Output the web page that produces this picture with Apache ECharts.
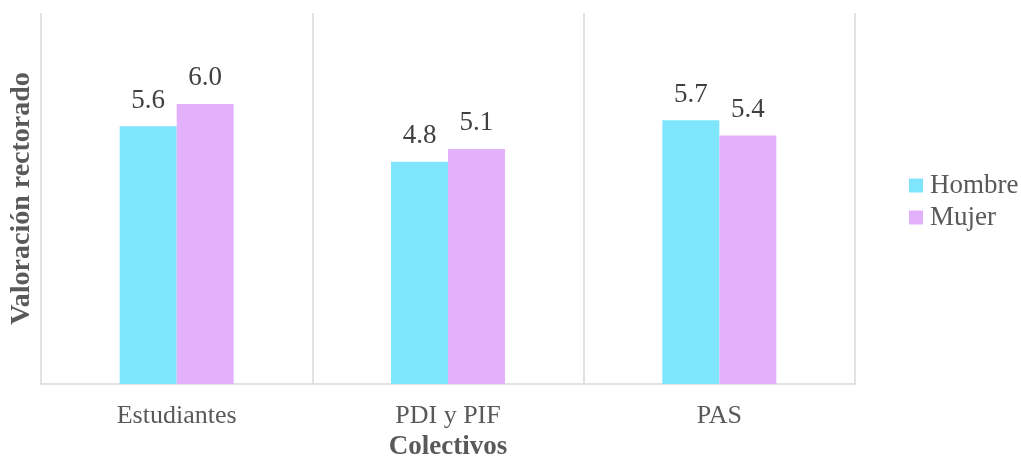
<!DOCTYPE html>
<html>
<head>
<meta charset="utf-8">
<script src="https://cdn.jsdelivr.net/npm/echarts@6/dist/echarts.min.js"></script>
<style>
html,body{margin:0;padding:0;background:#fff;}
#chart{width:1021px;height:463px;}
</style>
</head>
<body>
<div id="chart"></div>
<script>
const categories = ['Estudiantes', 'PDI y PIF', 'PAS'];
const hombre = [5.56, 4.79, 5.69];
const mujer = [6.04, 5.07, 5.36];
const seriesNames = ['Hombre', 'Mujer'];
const xAxisTitle = 'Colectivos';
const yAxisTitle = 'Valoración rectorado';

const FONT = '"Liberation Serif", "Times New Roman", serif';
const chart = echarts.init(document.getElementById('chart'), null, {renderer: 'canvas'});
const labelCfg = {
  show: true, position: 'top', distance: 12,
  fontFamily: FONT, fontSize: 27, color: '#404040',
  formatter: p => p.value.toFixed(1)
};
chart.setOption({
  animation: false,
  backgroundColor: '#ffffff',
  grid: {left: 41, right: 166, top: 13, bottom: 79, outerBoundsMode: 'none', containLabel: false},
  legend: {
    orient: 'vertical', left: 904, top: 167,
    itemWidth: 14, itemHeight: 14, itemGap: 5,
    icon: 'rect',
    textStyle: {fontFamily: FONT, fontSize: 27, color: '#595959', padding: [0,0,0,2]},
    data: seriesNames
  },
  xAxis: {
    type: 'category', data: categories,
    axisLine: {show: true, lineStyle: {color: '#d9d9d9', width: 1.5}},
    axisTick: {show: false},
    splitLine: {show: true, lineStyle: {color: '#d9d9d9', width: 1.5}},
    axisLabel: {fontFamily: FONT, fontSize: 26, color: '#595959', margin: 19},
    name: xAxisTitle, nameLocation: 'middle', nameGap: 50,
    nameTextStyle: {fontFamily: FONT, fontSize: 27, fontWeight: 'bold', color: '#595959'}
  },
  yAxis: {
    type: 'value', min: 0, max: 8, interval: 1,
    axisLine: {show: false}, axisTick: {show: false}, axisLabel: {show: false},
    splitLine: {show: false},
    name: yAxisTitle, nameLocation: 'middle', nameGap: 5,
    nameTextStyle: {fontFamily: FONT, fontSize: 28, fontWeight: 'bold', color: '#595959'}
  },
  series: [
    {name: seriesNames[0], type: 'bar', data: hombre, barGap: '0%', barCategoryGap: '58%',
     itemStyle: {color: '#7fe5fc'}, label: labelCfg},
    {name: seriesNames[1], type: 'bar', data: mujer,
     itemStyle: {color: '#e3b1fc'}, label: labelCfg}
  ]
});
</script>
</body>
</html>
